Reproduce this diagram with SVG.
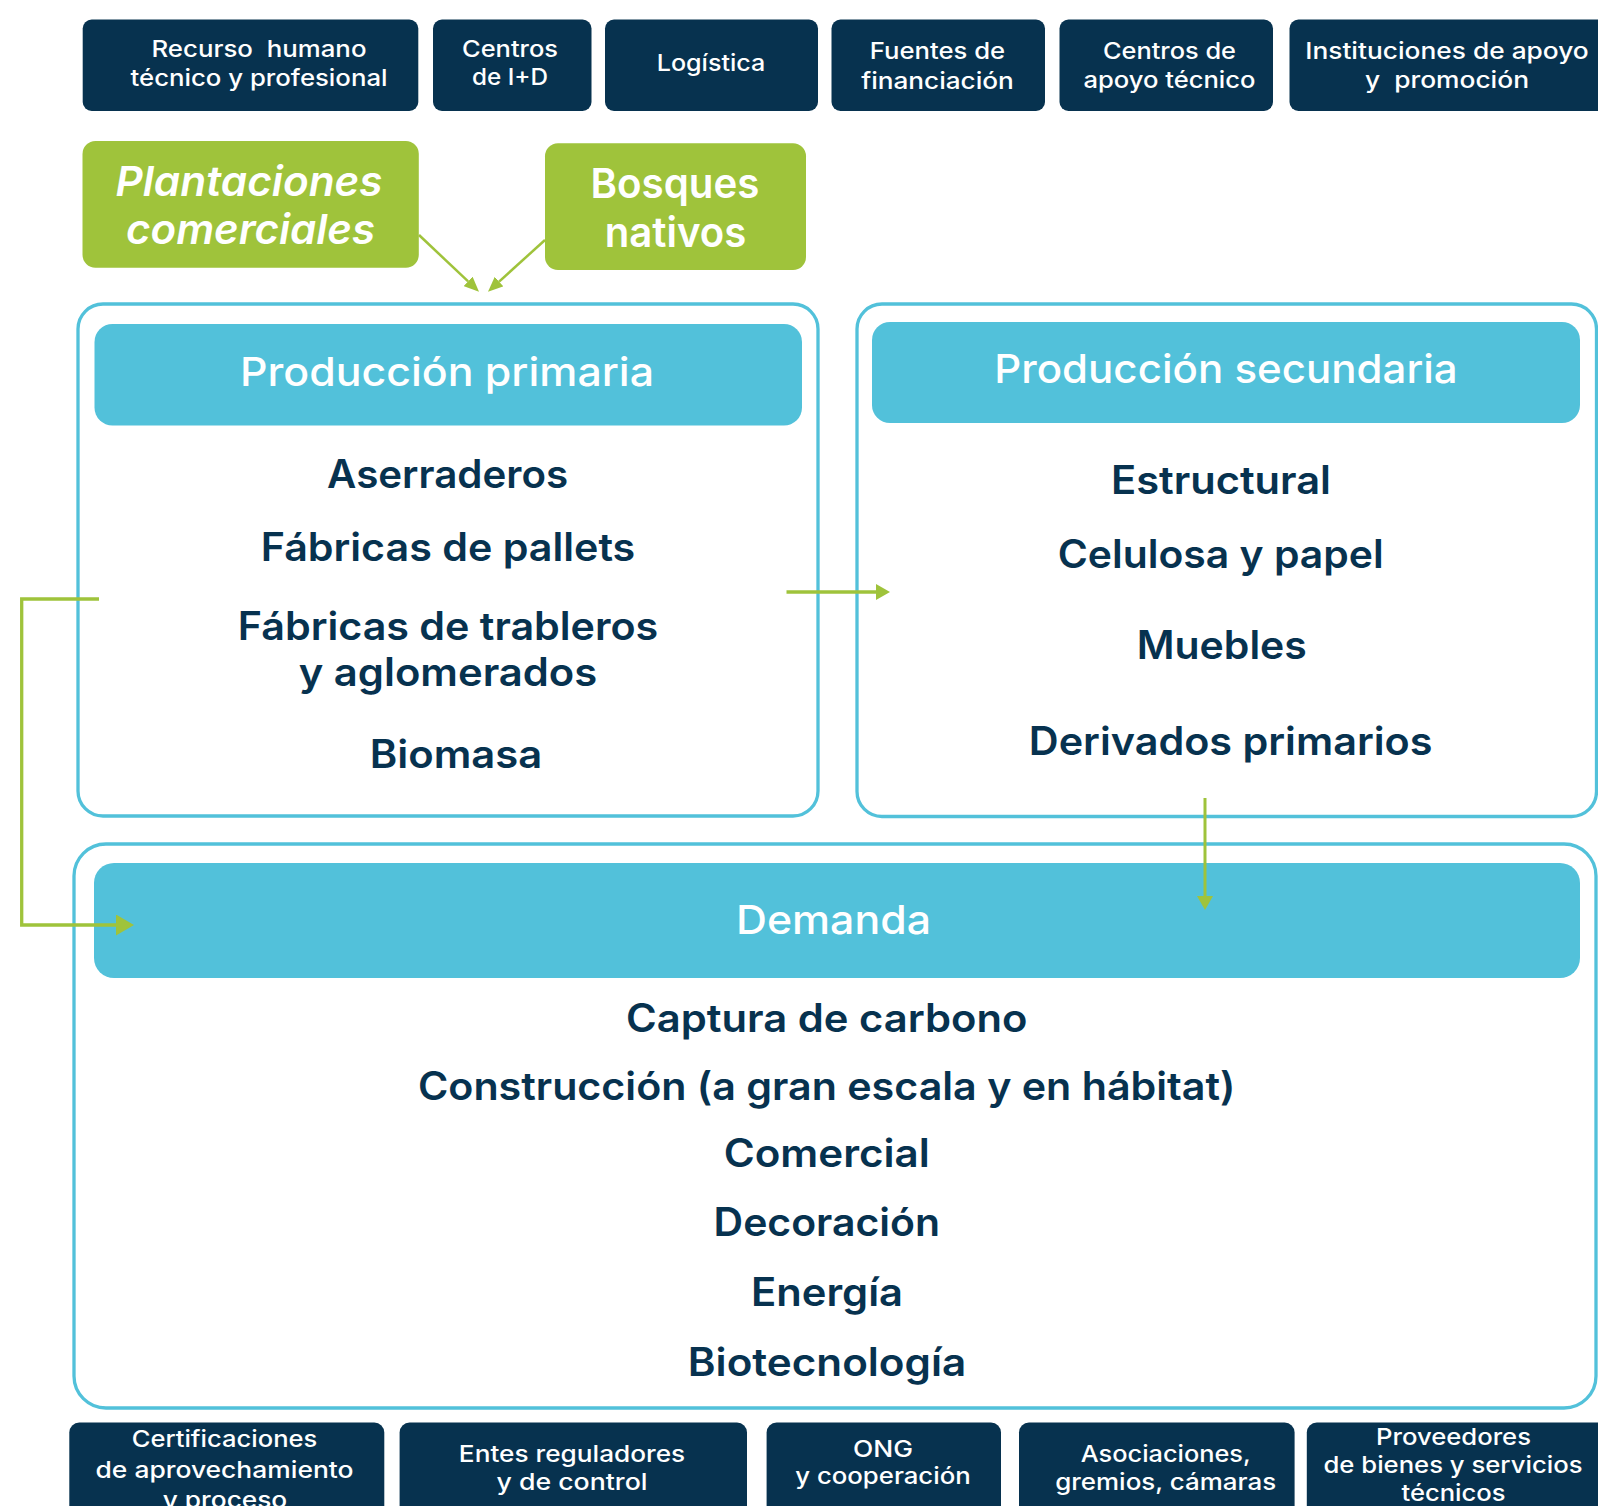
<svg xmlns="http://www.w3.org/2000/svg" width="1598" height="1506" viewBox="0 0 1598 1506">
<style>
  text { font-family: "Inter", "Open Sans", "Noto Sans", sans-serif; text-anchor: middle; }
  .dark { fill: #07324F; }
  .green { fill: #9FC33B; }
  .panel { fill: #FFFFFF; stroke: #52C1DA; stroke-width: 3.3; }
  .head { fill: #52C1DA; }
  .tb { fill: #FFFFFF; font-size: 23px; font-weight: 500; }
  .gt { fill: #FFFFFF; font-size: 41px; font-weight: 600; }
  .ht { fill: #FFFFFF; font-size: 40px; font-weight: 500; }
  .it { fill: #07324F; font-size: 39px; font-weight: 600; }
  .conn { fill: none; stroke: #9FC33B; stroke-linejoin: miter; }
</style>
<defs>
  <marker id="arrowL" markerUnits="userSpaceOnUse" markerWidth="18" markerHeight="21" refX="0" refY="10.5" orient="auto">
    <path d="M0,0 L18,10.5 L0,21 Z" fill="#9FC33B"/>
  </marker>
  <marker id="arrowM" markerUnits="userSpaceOnUse" markerWidth="14" markerHeight="16" refX="0" refY="8" orient="auto">
    <path d="M0,0 L14,8 L0,16 Z" fill="#9FC33B"/>
  </marker>
  <marker id="arrowS" markerUnits="userSpaceOnUse" markerWidth="15" markerHeight="13" refX="0" refY="6.5" orient="auto">
    <path d="M0,0 L15,6.5 L0,13 Z" fill="#9FC33B"/>
  </marker>
</defs>
<rect x="0" y="0" width="1598" height="1506" fill="#FFFFFF"/>

<!-- top boxes -->
<g id="recurso-humano">
  <rect class="dark" x="82.7" y="19.5" width="335.6" height="91.5" rx="9"/>
  <text class="tb" x="259" y="56.7" textLength="215" lengthAdjust="spacingAndGlyphs" xml:space="preserve">Recurso  humano</text>
  <text class="tb" x="259" y="85.5" textLength="257" lengthAdjust="spacingAndGlyphs">técnico y profesional</text>
</g>
<g id="centros-id">
  <rect class="dark" x="433" y="19.5" width="158.5" height="91.5" rx="9"/>
  <text class="tb" x="510" y="56.7" textLength="96" lengthAdjust="spacingAndGlyphs">Centros</text>
  <text class="tb" x="510" y="85" textLength="76" lengthAdjust="spacingAndGlyphs">de I+D</text>
</g>
<g id="logistica">
  <rect class="dark" x="605" y="19.5" width="213" height="91.5" rx="9"/>
  <text class="tb" x="711" y="71" textLength="108.6" lengthAdjust="spacingAndGlyphs">Logística</text>
</g>
<g id="fuentes">
  <rect class="dark" x="831.5" y="19.5" width="213.5" height="91.5" rx="9"/>
  <text class="tb" x="937.5" y="59.3" textLength="135.3" lengthAdjust="spacingAndGlyphs">Fuentes de</text>
  <text class="tb" x="937.5" y="89.3" textLength="152.7" lengthAdjust="spacingAndGlyphs">financiación</text>
</g>
<g id="centros-apoyo">
  <rect class="dark" x="1059.5" y="19.5" width="213.5" height="91.5" rx="9"/>
  <text class="tb" x="1169.5" y="59.3" textLength="133" lengthAdjust="spacingAndGlyphs">Centros de</text>
  <text class="tb" x="1169.5" y="88.3" textLength="172" lengthAdjust="spacingAndGlyphs">apoyo técnico</text>
</g>
<g id="instituciones">
  <rect class="dark" x="1289.5" y="19.5" width="318" height="91.5" rx="9"/>
  <text class="tb" x="1447" y="59.3" textLength="283.5" lengthAdjust="spacingAndGlyphs">Instituciones de apoyo</text>
  <text class="tb" x="1447" y="88.3" textLength="164" lengthAdjust="spacingAndGlyphs" xml:space="preserve">y  promoción</text>
</g>

<!-- green sources -->
<g id="plantaciones">
  <rect class="green" x="82.5" y="141" width="336.3" height="126.7" rx="13"/>
  <text class="gt" x="249" y="196" font-style="italic" textLength="267" lengthAdjust="spacingAndGlyphs">Plantaciones</text>
  <text class="gt" x="250.5" y="244.3" font-style="italic" textLength="249" lengthAdjust="spacingAndGlyphs">comerciales</text>
</g>
<g id="bosques">
  <rect class="green" x="545" y="143.3" width="261" height="126.7" rx="13"/>
  <text class="gt" x="675" y="197.7" textLength="169" lengthAdjust="spacingAndGlyphs">Bosques</text>
  <text class="gt" x="675.5" y="246.7" textLength="141.5" lengthAdjust="spacingAndGlyphs">nativos</text>
</g>

<!-- primary production -->
<g id="produccion-primaria">
  <rect class="panel" x="78" y="304" width="740" height="512" rx="25"/>
  <rect class="head" x="94.5" y="324" width="707.5" height="101.5" rx="18"/>
  <text class="ht" x="447" y="385.7" textLength="414" lengthAdjust="spacingAndGlyphs">Producción primaria</text>
  <text class="it" x="447.6" y="488" textLength="241" lengthAdjust="spacingAndGlyphs">Aserraderos</text>
  <text class="it" x="448" y="561.4" textLength="374.5" lengthAdjust="spacingAndGlyphs">Fábricas de pallets</text>
  <text class="it" x="448" y="640" textLength="420.4" lengthAdjust="spacingAndGlyphs">Fábricas de trableros</text>
  <text class="it" x="448" y="686.4" textLength="298.5" lengthAdjust="spacingAndGlyphs">y aglomerados</text>
  <text class="it" x="456" y="767.5" textLength="172.5" lengthAdjust="spacingAndGlyphs">Biomasa</text>
</g>

<!-- secondary production -->
<g id="produccion-secundaria">
  <rect class="panel" x="857" y="304" width="739.5" height="512.5" rx="25"/>
  <rect class="head" x="872" y="322" width="708" height="101" rx="18"/>
  <text class="ht" x="1226" y="383" font-size="41" textLength="463.5" lengthAdjust="spacingAndGlyphs">Producción secundaria</text>
  <text class="it" x="1221" y="494" font-size="40" textLength="220" lengthAdjust="spacingAndGlyphs">Estructural</text>
  <text class="it" x="1220.7" y="567.5" font-size="40" textLength="326" lengthAdjust="spacingAndGlyphs">Celulosa y papel</text>
  <text class="it" x="1221.8" y="658.6" font-size="40" textLength="170" lengthAdjust="spacingAndGlyphs">Muebles</text>
  <text class="it" x="1230.6" y="755.3" font-size="40" textLength="403.6" lengthAdjust="spacingAndGlyphs">Derivados primarios</text>
</g>

<!-- demand -->
<g id="demanda">
  <rect class="panel" x="74" y="844" width="1522" height="564" rx="32" stroke-width="4.5"/>
  <rect class="head" x="94" y="863" width="1486" height="115" rx="20"/>
  <text class="ht" x="833.5" y="933.6" textLength="195" lengthAdjust="spacingAndGlyphs">Demanda</text>
  <text class="it" x="826.7" y="1031.6" textLength="401.5" lengthAdjust="spacingAndGlyphs">Captura de carbono</text>
  <text class="it" x="826.7" y="1100" textLength="817.5" lengthAdjust="spacingAndGlyphs">Construcción (a gran escala y en hábitat)</text>
  <text class="it" x="826.7" y="1167.4" textLength="206" lengthAdjust="spacingAndGlyphs">Comercial</text>
  <text class="it" x="826.8" y="1235.8" textLength="226.4" lengthAdjust="spacingAndGlyphs">Decoración</text>
  <text class="it" x="827" y="1306" textLength="152" lengthAdjust="spacingAndGlyphs">Energía</text>
  <text class="it" x="827" y="1375.7" textLength="278.4" lengthAdjust="spacingAndGlyphs">Biotecnología</text>
</g>

<!-- bottom boxes -->
<g id="certificaciones">
  <rect class="dark" x="69.3" y="1422.5" width="315" height="100" rx="10"/>
  <text class="tb" x="224.5" y="1447.3" textLength="185.6" lengthAdjust="spacingAndGlyphs">Certificaciones</text>
  <text class="tb" x="224.5" y="1478.3" textLength="258" lengthAdjust="spacingAndGlyphs">de aprovechamiento</text>
  <text class="tb" x="225" y="1508" textLength="124.5" lengthAdjust="spacingAndGlyphs">y proceso</text>
</g>
<g id="entes">
  <rect class="dark" x="399.6" y="1422.5" width="347.4" height="100" rx="10"/>
  <text class="tb" x="572" y="1461.5" textLength="226.3" lengthAdjust="spacingAndGlyphs">Entes reguladores</text>
  <text class="tb" x="572" y="1490" textLength="151" lengthAdjust="spacingAndGlyphs">y de control</text>
</g>
<g id="ong">
  <rect class="dark" x="766.6" y="1422.5" width="234.4" height="100" rx="10"/>
  <text class="tb" x="883" y="1456.5" textLength="60" lengthAdjust="spacingAndGlyphs">ONG</text>
  <text class="tb" x="883" y="1483.5" textLength="175.5" lengthAdjust="spacingAndGlyphs">y cooperación</text>
</g>
<g id="asociaciones">
  <rect class="dark" x="1019" y="1422.5" width="275.6" height="100" rx="10"/>
  <text class="tb" x="1165.7" y="1461.5" textLength="170" lengthAdjust="spacingAndGlyphs">Asociaciones,</text>
  <text class="tb" x="1165.7" y="1490" textLength="221" lengthAdjust="spacingAndGlyphs">gremios, cámaras</text>
</g>
<g id="proveedores">
  <rect class="dark" x="1306.8" y="1422.5" width="300" height="100" rx="10"/>
  <text class="tb" x="1453.5" y="1445" textLength="155" lengthAdjust="spacingAndGlyphs">Proveedores</text>
  <text class="tb" x="1453" y="1472.7" textLength="259" lengthAdjust="spacingAndGlyphs">de bienes y servicios</text>
  <text class="tb" x="1453.5" y="1500.7" textLength="104" lengthAdjust="spacingAndGlyphs">técnicos</text>
</g>

<!-- connectors -->
<g id="connectors">
  <line class="conn" x1="419" y1="235" x2="468.1" y2="281.4" stroke-width="2.5" marker-end="url(#arrowS)"/>
  <line class="conn" x1="545" y1="240" x2="499.1" y2="281.6" stroke-width="2.5" marker-end="url(#arrowS)"/>
  <line class="conn" x1="786.5" y1="592" x2="876" y2="592" stroke-width="3.5" marker-end="url(#arrowM)"/>
  <polyline class="conn" points="99,599 21.7,599 21.7,925 116,925" stroke-width="3.3" marker-end="url(#arrowL)"/>
  <line class="conn" x1="1205" y1="798" x2="1205" y2="896" stroke-width="3" marker-end="url(#arrowM)"/>
</g>
</svg>
